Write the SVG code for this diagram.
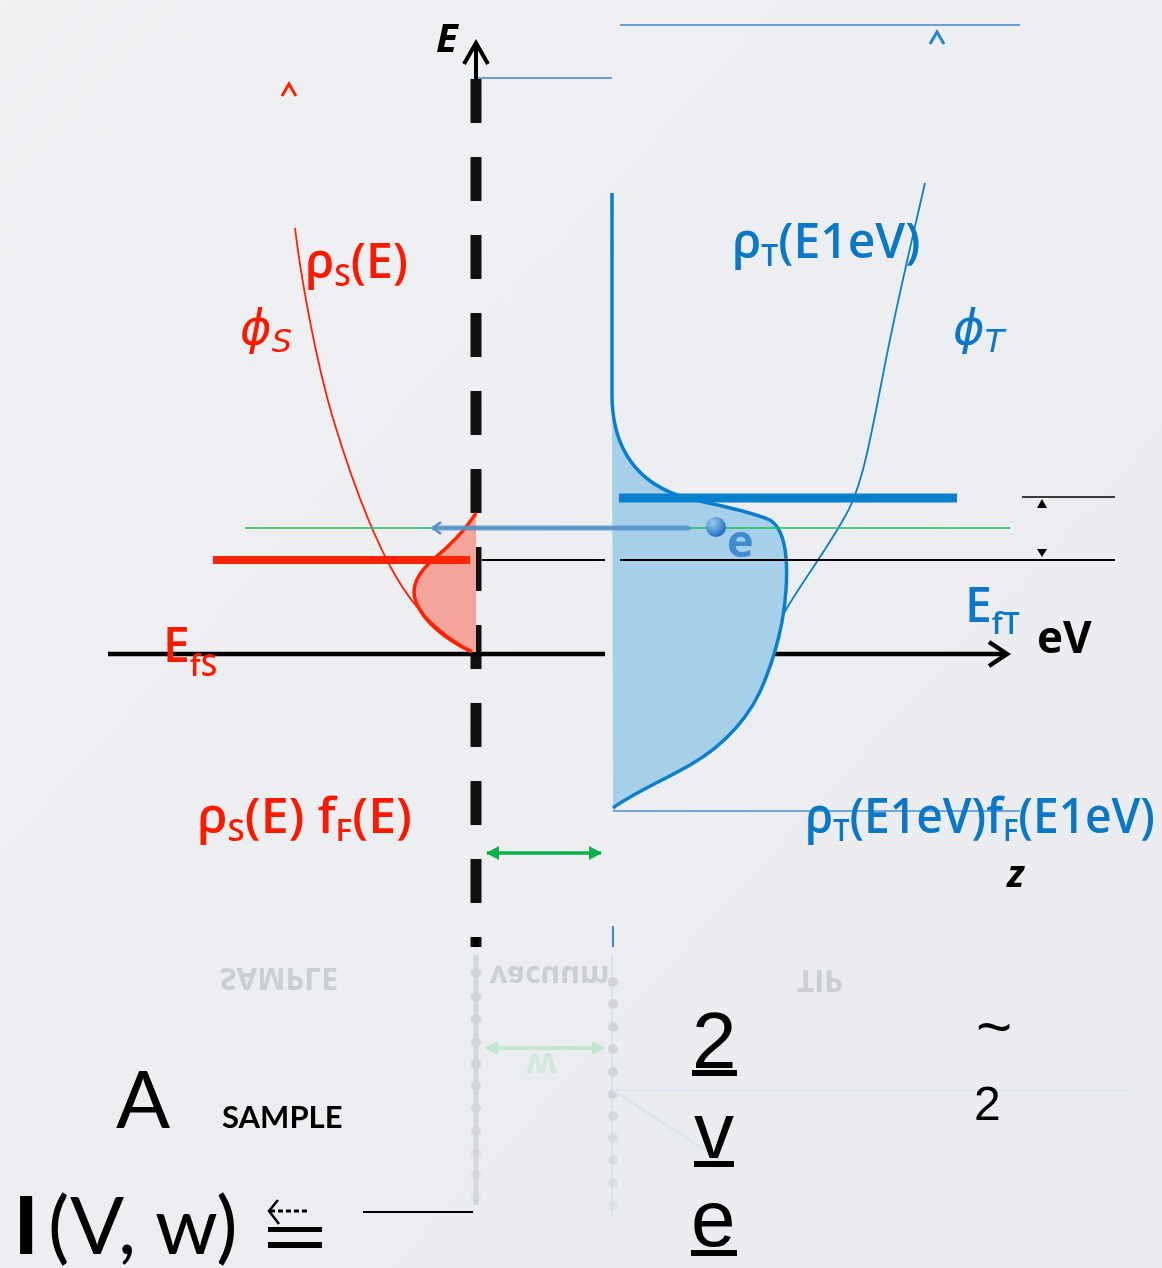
<svg xmlns="http://www.w3.org/2000/svg" width="1162" height="1268" viewBox="0 0 1162 1268">
<defs>
<style>
.lbl{font-family:"Open Sans","Liberation Sans",sans-serif;font-weight:600;font-size:48px}
.red{fill:#FF1800}
.blue{fill:#0A78C6}
.phi{font-family:"DejaVu Sans","Open Sans",sans-serif;font-style:italic;font-weight:400;font-size:48px}
.math{font-family:"Liberation Sans",Arial,sans-serif;font-size:80px;fill:#000}
.gill{font-family:Lato,"Open Sans",sans-serif;fill:#000}
.ghost{font-family:"Open Sans","Liberation Sans",sans-serif;font-weight:700;fill:#C9CBCF}
</style>
<linearGradient id="bg" x1="0" y1="0" x2="1" y2="1">
<stop offset="0" stop-color="#F0F1F3"/>
<stop offset="1" stop-color="#E9EBEE"/>
</linearGradient>
<radialGradient id="ball" cx="0.35" cy="0.3" r="0.7">
<stop offset="0" stop-color="#9CCBF2"/>
<stop offset="1" stop-color="#1E6FBF"/>
</radialGradient>
<marker id="gHead" markerWidth="14" markerHeight="14" refX="12" refY="7" orient="auto-start-reverse" markerUnits="userSpaceOnUse">
<path d="M0,0 L13,7 L0,14 Z" fill="#0DB14B"/>
</marker>
<marker id="gHeadF" markerWidth="14" markerHeight="14" refX="12" refY="7" orient="auto-start-reverse" markerUnits="userSpaceOnUse">
<path d="M0,0 L13,7 L0,14 Z" fill="#BFE6CF"/>
</marker>
</defs>

<rect width="1162" height="1268" fill="url(#bg)"/>

<!-- faint mirrored reflection -->
<g id="reflection" opacity="0.9">
<text class="ghost" font-size="30" transform="translate(220,968) scale(1,-1)">SAMPLE</text>
<text class="ghost" font-size="30" transform="translate(490,966) scale(1,-1)">vacuum</text>
<text class="ghost" font-size="30" transform="translate(797,970) scale(1,-1)">TIP</text>
<text font-family="Open Sans,sans-serif" font-weight="700" font-size="36" fill="#CFE9DA" transform="translate(526,1053) scale(1,-1)">w</text>
<line x1="476" y1="955" x2="476" y2="1205" stroke="#D3D5D9" stroke-width="5"/>
<line x1="612" y1="955" x2="612" y2="1215" stroke="#DCE3EC" stroke-width="2"/>
<g fill="#D0D2D6">
<circle cx="476" cy="973" r="5"/><circle cx="476" cy="997" r="5"/><circle cx="476" cy="1019" r="5"/><circle cx="476" cy="1042" r="5"/><circle cx="476" cy="1064" r="5"/><circle cx="476" cy="1086" r="5"/><circle cx="476" cy="1108" r="5" opacity="0.8"/><circle cx="476" cy="1131" r="5" opacity="0.7"/><circle cx="476" cy="1153" r="5" opacity="0.6"/><circle cx="476" cy="1175" r="5" opacity="0.5"/><circle cx="476" cy="1198" r="5" opacity="0.4"/>
<circle cx="613" cy="982" r="5"/><circle cx="613" cy="1004" r="5"/><circle cx="613" cy="1027" r="5"/><circle cx="613" cy="1049" r="5"/><circle cx="613" cy="1072" r="5"/><circle cx="613" cy="1094" r="5"/><circle cx="613" cy="1116" r="5" opacity="0.8"/><circle cx="613" cy="1138" r="5" opacity="0.7"/><circle cx="613" cy="1160" r="5" opacity="0.6"/><circle cx="613" cy="1183" r="5" opacity="0.5"/><circle cx="613" cy="1206" r="5" opacity="0.4"/>
</g>
<line x1="486" y1="1048" x2="604" y2="1048" stroke="#BFE6CF" stroke-width="4" marker-start="url(#gHeadF)" marker-end="url(#gHeadF)"/>
<line x1="613" y1="1090" x2="1130" y2="1090" stroke="#DDE5EE" stroke-width="2"/>
<line x1="613" y1="1090" x2="720" y2="1160" stroke="#DDE5EE" stroke-width="3"/>
</g>

<!-- axes -->
<g id="axes">
<line x1="476" y1="79" x2="476" y2="947" stroke="#111" stroke-width="11" stroke-dasharray="44 34"/>
<line x1="476" y1="80" x2="476" y2="44" stroke="#000" stroke-width="4"/>
<path d="M464,64 L476,43 L488,64" fill="none" stroke="#000" stroke-width="4"/>
<line x1="108" y1="654" x2="605" y2="654" stroke="#000" stroke-width="4.5"/>
<line x1="620" y1="654" x2="1004" y2="654" stroke="#000" stroke-width="4.5"/>
<path d="M989,642 L1007,654 L989,666" fill="none" stroke="#000" stroke-width="4.5"/>
<line x1="613" y1="926" x2="613" y2="947" stroke="#3C86C8" stroke-width="2"/>
</g>

<!-- sample side -->
<g id="sample-dos">
<path d="M476,513 C468,526 455,541 436,557 C418,572 410,587 416,602 C424,622 446,640 472,652 L476,652 Z" fill="#F4A49A"/>
<path d="M476,513 C468,526 455,541 436,557 C418,572 410,587 416,602 C424,622 446,640 472,652" fill="none" stroke="#FF2200" stroke-width="3.5"/>
</g>
<g id="sample-barrier">
<path d="M295,228 C300,270 315,360 335,425 C355,490 375,540 395,575 C415,610 440,635 472,651" fill="none" stroke="#FF2200" stroke-width="1.8"/>
</g>
<g id="sample-fermi">
<line x1="213" y1="560" x2="470" y2="560" stroke="#FF2400" stroke-width="8"/>
</g>

<!-- tip side -->
<g id="tip-dos">
<path d="M612,395 C612,440 630,478 677,495 C702,503 742,508 770,520 C786,530 788,560 786,590 C784,620 777,650 765,680 C752,715 725,745 690,765 C660,782 630,795 613,808 Z" fill="#A6D0E9"/>
<path d="M612,193 L612,395 C612,440 630,478 677,495 C702,503 742,508 770,520 C786,530 788,560 786,590 C784,620 777,650 765,680 C752,715 725,745 690,765 C660,782 630,795 613,808" fill="none" stroke="#0A7FCC" stroke-width="3.5"/>
</g>
<g id="tip-barrier">
<path d="M925,183 C912,240 895,310 882,380 C870,440 862,490 843,520 C823,555 802,582 784,613" fill="none" stroke="#0A7FCC" stroke-width="1.8"/>
</g>
<g id="tip-fermi">
<line x1="619" y1="498" x2="957" y2="498" stroke="#0A80CD" stroke-width="9"/>
</g>

<!-- level lines -->
<g id="levels">
<line x1="478" y1="78" x2="612" y2="78" stroke="#3C86C8" stroke-width="1.6"/>
<line x1="620" y1="25" x2="1020" y2="25" stroke="#3C86C8" stroke-width="1.6"/>
<line x1="245" y1="528" x2="1010" y2="528" stroke="#22BB55" stroke-width="1.6"/>
<line x1="482" y1="560" x2="605" y2="560" stroke="#000" stroke-width="2"/>
<line x1="620" y1="560" x2="1115" y2="560" stroke="#000" stroke-width="2"/>
<line x1="1022" y1="497" x2="1115" y2="497" stroke="#000" stroke-width="1.6"/>
<polygon points="1037,508 1047,508 1042,499" fill="#000"/>
<polygon points="1037,549 1047,549 1042,557" fill="#000"/>
<line x1="613" y1="811" x2="1020" y2="811" stroke="#4A8FD0" stroke-width="1.6"/>
<path d="M930,44 L937,32 L944,44" fill="none" stroke="#1E88D0" stroke-width="3"/>
<path d="M282,96 L289,84 L296,96" fill="none" stroke="#FF2200" stroke-width="3"/>
</g>

<!-- tunnelling electron -->
<g id="electron">
<line x1="688" y1="528" x2="434" y2="528" stroke="#5A8ED0" stroke-opacity="0.85" stroke-width="5" stroke-linecap="round"/>
<path d="M441,522 L433,528 L441,534" fill="none" stroke="#5A8ED0" stroke-width="2.5"/>
<circle cx="716" cy="527" r="10" fill="url(#ball)"/>
<text x="727" y="557" font-family="Open Sans,sans-serif" font-weight="700" font-size="45" fill="#3E8BD2">e</text>
</g>

<!-- gap arrow -->
<g id="gap">
<line x1="487" y1="853" x2="601" y2="853" stroke="#0DB14B" stroke-width="3.5" marker-start="url(#gHead)" marker-end="url(#gHead)"/>
</g>

<!-- labels -->
<g id="labels">
<text x="436" y="52" font-family="Open Sans,sans-serif" font-style="italic" font-weight="700" font-size="40" fill="#000">E</text>
<text x="305" y="278" class="lbl red">ρ<tspan font-size="30" dy="8">S</tspan><tspan dy="-8">(E)</tspan></text>
<text x="240" y="344" class="phi red">ϕ<tspan font-size="32" dy="8">S</tspan></text>
<text x="163" y="662" class="lbl red" font-size="46">E<tspan font-size="30" dy="14">fS</tspan></text>
<text x="197" y="833" class="lbl red" textLength="215" lengthAdjust="spacingAndGlyphs">ρ<tspan font-size="30" dy="8">S</tspan><tspan dy="-8">(E) f</tspan><tspan font-size="30" dy="8">F</tspan><tspan dy="-8">(E)</tspan></text>
<text x="732" y="258" class="lbl blue">ρ<tspan font-size="30" dy="8">T</tspan><tspan dy="-8">(E1eV)</tspan></text>
<text x="953" y="344" class="phi blue">ϕ<tspan font-size="32" dy="8">T</tspan></text>
<text x="965" y="622" class="lbl blue" font-size="46">E<tspan font-size="30" dy="12">fT</tspan></text>
<text x="1037" y="653" font-family="Open Sans,sans-serif" font-weight="700" font-size="44" fill="#000">eV</text>
<text x="805" y="833" class="lbl blue" textLength="350" lengthAdjust="spacingAndGlyphs">ρ<tspan font-size="30" dy="8">T</tspan><tspan dy="-8">(E1eV)f</tspan><tspan font-size="30" dy="8">F</tspan><tspan dy="-8">(E1eV)</tspan></text>
<text x="1007" y="887" font-family="Open Sans,sans-serif" font-style="italic" font-weight="700" font-size="38" fill="#000">z</text>
</g>

<!-- formula fragments -->
<g id="formula">
<rect x="473" y="937" width="6" height="10" fill="#000"/>
<text x="692" y="1068" class="math">2</text>
<rect x="692" y="1070" width="45" height="6" fill="#000"/>
<text x="694" y="1158" class="math">v</text>
<rect x="694" y="1161" width="40" height="6" fill="#000"/>
<text x="691" y="1246" class="math">e</text>
<rect x="691" y="1250" width="46" height="6" fill="#000"/>
<text x="976" y="1048" font-family="Liberation Sans,Arial,sans-serif" font-size="62" fill="#000">~</text>
<text x="974" y="1120" font-family="Liberation Sans,Arial,sans-serif" font-size="48" fill="#000">2</text>
<text x="116" y="1128" class="gill" font-size="80">A</text>
<text x="222" y="1128" class="gill" font-size="31" font-weight="700">SAMPLE</text>
<text x="14" y="1254" class="gill" font-size="80" font-weight="900">I</text>
<text x="48" y="1254" class="gill" font-size="80" font-weight="400">(V, w)</text>
<rect x="268" y="1227" width="54" height="5" fill="#000"/>
<rect x="268" y="1242" width="54" height="6" fill="#000"/>
<path d="M278,1200 L269,1211 L279,1224" fill="none" stroke="#000" stroke-width="2.5"/>
<line x1="270" y1="1211" x2="307" y2="1211" stroke="#000" stroke-width="3" stroke-dasharray="5 3"/>
<line x1="363" y1="1212" x2="473" y2="1212" stroke="#000" stroke-width="2"/>
</g>
</svg>
